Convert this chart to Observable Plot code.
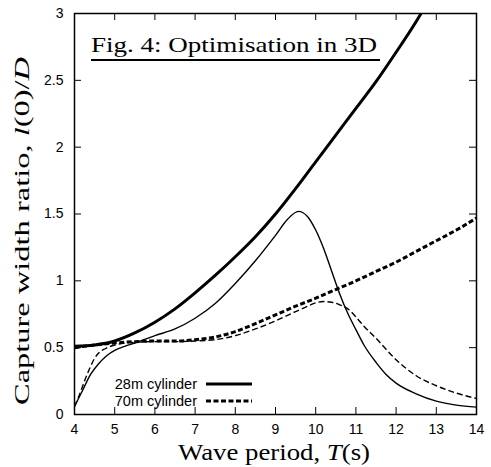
<!DOCTYPE html>
<html><head><meta charset="utf-8">
<script src="https://cdn.jsdelivr.net/npm/d3@7"></script>
<script src="https://cdn.jsdelivr.net/npm/@observablehq/plot@0.6"></script>
<style>body{margin:0;background:#fff}</style>
</head><body><div id="chart"></div>
<script>
// Tick labels
const xTicks = [4, 5, 6, 7, 8, 9, 10, 11, 12, 13, 14];
const yTicks = [0, 0.5, 1, 1.5, 2, 2.5, 3];

// 28m cylinder, optimised (thick solid)
const T28opt = [4, 4.5, 5, 5.5, 6, 6.5, 7, 7.5, 8, 8.5, 9, 9.5, 10, 10.5, 11, 11.5, 12, 12.5, 12.62];
const Y28opt = [0.51, 0.52, 0.55, 0.61, 0.69, 0.79, 0.91, 1.04, 1.18, 1.33, 1.50, 1.69, 1.89, 2.09, 2.29, 2.49, 2.71, 2.94, 3.0];

// 28m cylinder, second curve (thin solid)
const T28b = [4, 4.1, 4.2, 4.4, 4.6, 4.8, 5.0, 5.25, 5.5, 6.0, 6.5, 7.0, 7.5, 8.0, 8.5, 9.0, 9.3, 9.57, 9.8, 10.0, 10.2, 10.4, 10.6, 10.8, 11.0, 11.2, 11.5, 11.75, 12, 12.5, 13, 13.5, 14];
const Y28b = [0.06, 0.12, 0.18, 0.30, 0.38, 0.44, 0.48, 0.51, 0.535, 0.59, 0.64, 0.72, 0.83, 0.98, 1.15, 1.34, 1.46, 1.52, 1.48, 1.38, 1.24, 1.07, 0.90, 0.755, 0.635, 0.52, 0.39, 0.30, 0.235, 0.155, 0.10, 0.07, 0.055];

// 70m cylinder, optimised (thick dashed)
const T70opt = [4, 4.5, 5, 5.5, 6, 6.5, 7, 7.5, 8, 8.5, 9, 9.5, 10, 10.5, 11, 11.5, 12, 12.5, 13, 13.5, 14];
const Y70opt = [0.50, 0.52, 0.535, 0.545, 0.55, 0.55, 0.56, 0.58, 0.62, 0.68, 0.745, 0.81, 0.87, 0.935, 1.00, 1.07, 1.14, 1.22, 1.30, 1.38, 1.47];

// 70m cylinder, second curve (thin dashed)
const T70b = [4, 4.1, 4.2, 4.3, 4.4, 4.5, 4.6, 4.75, 5.0, 5.5, 6, 6.5, 7, 7.5, 8, 8.5, 9, 9.5, 9.8, 10.0, 10.2, 10.4, 10.6, 10.8, 11.0, 11.2, 11.5, 12.0, 12.5, 13, 13.5, 14];
const Y70b = [0.06, 0.13, 0.21, 0.29, 0.36, 0.42, 0.46, 0.49, 0.52, 0.54, 0.545, 0.545, 0.55, 0.56, 0.59, 0.64, 0.70, 0.77, 0.81, 0.835, 0.845, 0.84, 0.82, 0.79, 0.73, 0.66, 0.57, 0.41, 0.29, 0.215, 0.16, 0.12];

const legendLabels = ["28m cylinder", "70m cylinder"];

const W = 491, H = 467, mL = 74, mR = 15, mT = 13, mB = 53;
const fw = W - mL - mR, fh = H - mT - mB;
const series = (ts, ys) => ts.map((t, i) => ({t, y: ys[i]}));

const plot = Plot.plot({
  width: W, height: H,
  marginLeft: mL, marginRight: mR, marginTop: mT, marginBottom: mB,
  x: {domain: [4, 14]},
  y: {domain: [0, 3]},
  style: {fontFamily: "'Liberation Sans', Arial, sans-serif", fontSize: "14px", color: "#000", background: "#fff"},
  marks: [
    Plot.axisX(xTicks, {tickSize: 0, tickPadding: 10, label: null, fontSize: 14, tickFormat: d => String(d)}),
    Plot.axisY(yTicks, {tickSize: 0, tickPadding: 11, label: null, fontSize: 14, tickFormat: d => String(d)}),
    Plot.tickX(xTicks, {x: d => d, insetTop: fh - 7, stroke: "#000", strokeWidth: 1}),
    Plot.tickX(xTicks, {x: d => d, insetBottom: fh - 7, stroke: "#000", strokeWidth: 1}),
    Plot.tickY(yTicks, {y: d => d, insetRight: fw - 7, stroke: "#000", strokeWidth: 1}),
    Plot.tickY(yTicks, {y: d => d, insetLeft: fw - 7, stroke: "#000", strokeWidth: 1}),
    Plot.line(series(T28b, Y28b), {x: "t", y: "y", curve: "monotone-x", stroke: "#000", strokeWidth: 1.4, strokeLinecap: "butt"}),
    Plot.line(series(T70b, Y70b), {x: "t", y: "y", curve: "monotone-x", stroke: "#000", strokeWidth: 1.4, strokeDasharray: "6,3", strokeLinecap: "butt"}),
    Plot.line(series(T70opt, Y70opt), {x: "t", y: "y", curve: "monotone-x", stroke: "#000", strokeWidth: 3, strokeDasharray: "5,2.5", strokeLinecap: "butt"}),
    Plot.line(series(T28opt, Y28opt), {x: "t", y: "y", curve: "monotone-x", stroke: "#000", strokeWidth: 3, strokeLinecap: "butt"}),
    Plot.frame({stroke: "#000", strokeWidth: 1.5})
  ]
});
document.getElementById("chart").appendChild(plot);

const svg = d3.select(plot);
const serif = "'Liberation Serif', 'Times New Roman', serif";

// Title with underline
svg.append("text").attr("x", 91).attr("y", 52).attr("text-anchor", "start")
  .attr("font-family", serif).attr("font-size", 21)
  .attr("textLength", 286).attr("lengthAdjust", "spacingAndGlyphs").attr("fill", "#000")
  .text("Fig. 4: Optimisation in 3D");
svg.append("line").attr("x1", 91).attr("x2", 380).attr("y1", 60).attr("y2", 60)
  .attr("stroke", "#000").attr("stroke-width", 1.8);

// X axis label
const xl = svg.append("text").attr("x", 274).attr("y", 460).attr("text-anchor", "middle")
  .attr("font-family", serif).attr("font-size", 23).attr("fill", "#000")
  .attr("textLength", 192).attr("lengthAdjust", "spacingAndGlyphs");
xl.append("tspan").text("Wave period, ");
xl.append("tspan").attr("font-style", "italic").text("T");
xl.append("tspan").text("(s)");

// Y axis label
const yl = svg.append("text").attr("transform", "translate(29,231) rotate(-90)").attr("text-anchor", "middle")
  .attr("font-family", serif).attr("font-size", 22).attr("fill", "#000")
  .attr("textLength", 348).attr("lengthAdjust", "spacingAndGlyphs");
yl.append("tspan").text("Capture width ratio, ");
yl.append("tspan").attr("font-style", "italic").text("l");
yl.append("tspan").text("(0)/");
yl.append("tspan").attr("font-style", "italic").text("D");

// Legend
const lg = [{y: 384, dash: null}, {y: 401, dash: "5,2.5"}];
lg.forEach((d, i) => {
  svg.append("text").attr("x", 197).attr("y", d.y + 5).attr("text-anchor", "end")
    .attr("font-family", "'Liberation Sans', Arial, sans-serif").attr("font-size", 14.5).attr("fill", "#000")
    .text(legendLabels[i]);
  const ln = svg.append("line").attr("x1", 206).attr("x2", 252).attr("y1", d.y).attr("y2", d.y)
    .attr("stroke", "#000").attr("stroke-width", 3);
  if (d.dash) ln.attr("stroke-dasharray", d.dash);
});
</script>
</body></html>
